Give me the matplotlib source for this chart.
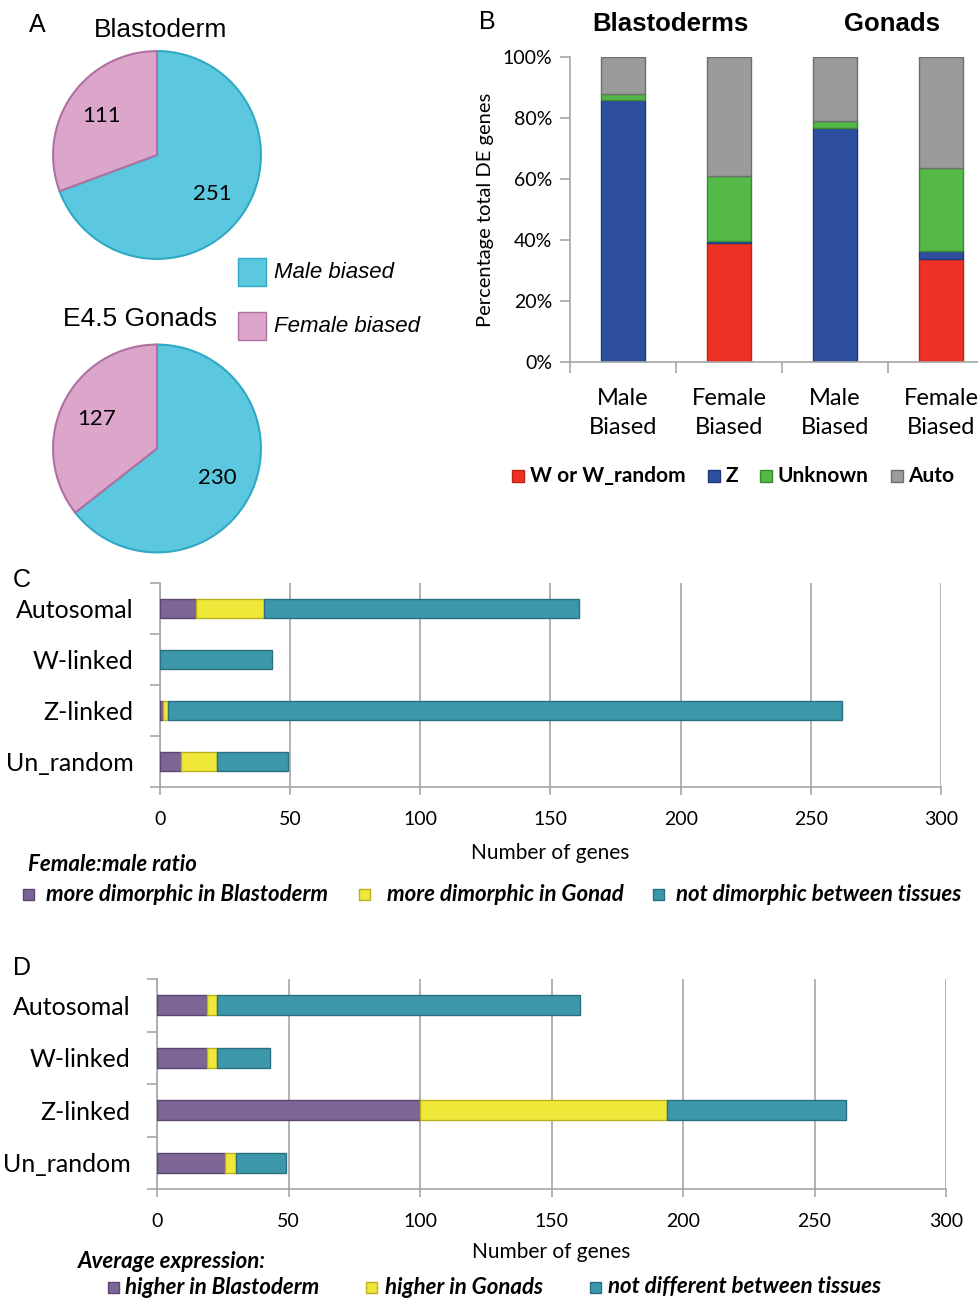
import matplotlib
matplotlib.use('Agg')
import matplotlib.pyplot as plt
import numpy as np
from matplotlib.patches import Rectangle
from matplotlib.ticker import FuncFormatter

# Panel A: number of sex-biased genes
pie_labels = ['Male biased', 'Female biased']
blastoderm_counts = [251, 111]
gonad_counts = [230, 127]

# Panel B: chromosomal location of DE genes (% of total)
b_groups = ['Male\nBiased', 'Female\nBiased', 'Male\nBiased', 'Female\nBiased']
b_w_random = [0.0, 38.9, 0.0, 33.8]
b_z = [86.0, 0.9, 76.7, 2.5]
b_unknown = [1.8, 21.1, 2.3, 27.2]
b_auto = [12.2, 39.1, 21.0, 36.5]
b_series = ['W or W_random', 'Z', 'Unknown', 'Auto']

# Panels C and D: genes per chromosome class
chrom = ['Autosomal', 'W-linked', 'Z-linked', 'Un_random']
c_blasto = [14, 0, 1, 8]
c_gonad = [26, 0, 2, 14]
c_none = [121, 43, 259, 27]
c_series = ['more dimorphic in Blastoderm', 'more dimorphic in Gonad',
            'not dimorphic between tissues']

d_blasto = [19, 19, 100, 26]
d_gonad = [4, 4, 94, 4]
d_none = [138, 20, 68, 19]
d_series = ['higher in Blastoderm', 'higher in Gonads',
            'not different between tissues']

W, H = 979, 1299
ARIAL = 'Liberation Sans'
CAL = 'Lato'

male_col, male_edge = '#5BC8DF', '#2FA9C4'
fem_col, fem_edge = '#DCA6CA', '#B070A2'
b_cols = ['#EE3124', '#2E4FA0', '#55B947', '#9B9B9B']
b_edges = ['#B8231A', '#1F3878', '#3A8A31', '#6E6E6E']
hc_cols = ['#7E6597', '#F0E839', '#3D97AB']
hc_edges = ['#5A4670', '#B8B020', '#2A6F80']
axis_grey = '#A6A6A6'

fig = plt.figure(figsize=(W / 100, H / 100), dpi=100)


def px_axes(x0, y0, x1, y1, **kw):
    return fig.add_axes([x0 / W, 1 - y1 / H, (x1 - x0) / W, (y1 - y0) / H], **kw)


# overlay in pixel units for panel letters and legends
ov = fig.add_axes([0, 0, 1, 1])
ov.set_xlim(0, W)
ov.set_ylim(H, 0)
ov.axis('off')
ov.set_zorder(5)


def key(x, y, size, color, edge, label, tx, **font):
    ov.add_patch(Rectangle((x, y - size / 2), size, size, facecolor=color,
                           edgecolor=edge, lw=1))
    ov.text(tx, y, label, va='center', ha='left', **font)


# ---- A: pies ----
def draw_pie(box, counts):
    ax = px_axes(*box)
    total = sum(counts)
    ax.pie(counts, colors=[male_col, fem_col], startangle=90, counterclock=False,
           autopct=lambda p: f'{round(p * total / 100)}', pctdistance=0.65,
           wedgeprops=dict(linewidth=1.5), textprops=dict(fontsize=16, family=CAL))
    for w, e in zip(ax.patches, [male_edge, fem_edge]):
        w.set_edgecolor(e)
    ax.set_xlim(-1.02, 1.02)
    ax.set_ylim(-1.02, 1.02)
    ax.set_aspect('equal')


draw_pie((51, 49, 263, 261), blastoderm_counts)
draw_pie((51, 342, 263, 555), gonad_counts)

ov.text(37, 25, 'A', ha='center', va='center', fontsize=18, family=ARIAL)
ov.text(161, 30, 'Blastoderm', ha='center', va='center', fontsize=19, family=ARIAL)
ov.text(140, 319, 'E4.5 Gonads', ha='center', va='center', fontsize=19, family=ARIAL)
key(238, 272, 28, male_col, male_edge, pie_labels[0], 274,
    fontsize=16, family=ARIAL, style='italic')
key(238, 326, 28, fem_col, fem_edge, pie_labels[1], 274,
    fontsize=16, family=ARIAL, style='italic')

# ---- B: stacked percentage columns ----
axb = px_axes(570, 57, 994, 362)
x = np.arange(len(b_groups))
bottom = np.zeros(len(b_groups))
for vals, col, edge in zip([b_w_random, b_z, b_unknown, b_auto], b_cols, b_edges):
    axb.bar(x, vals, 0.41, bottom=bottom, color=col, edgecolor=edge, linewidth=1)
    bottom += np.array(vals)
axb.set_xlim(-0.5, 3.5)
axb.set_ylim(0, 100)
axb.set_yticks(np.arange(0, 101, 20))
axb.yaxis.set_major_formatter(FuncFormatter(lambda v, p: f'{v:.0f}%'))
axb.set_xticks(x)
axb.set_xticklabels(b_groups, fontsize=17, family=CAL, linespacing=1.45)
axb.set_xticks(np.arange(-0.5, 4, 1), minor=True)
axb.tick_params(axis='x', which='major', length=0, pad=19)
axb.tick_params(axis='x', which='minor', length=8, color=axis_grey, width=1.2)
axb.tick_params(axis='y', length=7, color=axis_grey, width=1.2, labelsize=14, pad=6)
for lab in axb.get_yticklabels():
    lab.set_family(CAL)
for s in ['top', 'right']:
    axb.spines[s].set_visible(False)
for s in ['left', 'bottom']:
    axb.spines[s].set_color(axis_grey)
    axb.spines[s].set_linewidth(1.2)
axb.set_ylabel('Percentage total DE genes', fontsize=14.5, family=CAL)
axb.yaxis.set_label_coords(-0.18, 0.5)

ov.text(487, 22, 'B', ha='center', va='center', fontsize=18, family=ARIAL)
ov.text(670, 24, 'Blastoderms', ha='center', va='center', fontsize=18.5,
        family=ARIAL, weight='bold')
ov.text(892, 24, 'Gonads', ha='center', va='center', fontsize=18.5,
        family=ARIAL, weight='bold')
for sx, tx, lab, col, edge in zip([512, 708, 760, 891], [530, 726, 778, 908],
                                  b_series, b_cols, b_edges):
    key(sx, 476, 12, col, edge, lab, tx, fontsize=15, family=CAL, weight='bold')


# ---- C and D: stacked horizontal bars ----
def hbars(box, parts, xlabel_y):
    ax = px_axes(*box)
    y = np.arange(len(chrom))
    left = np.zeros(len(chrom))
    for vals, col, edge in zip(parts, hc_cols, hc_edges):
        ax.barh(y, vals, 0.39, left=left, color=col, edgecolor=edge,
                linewidth=1, zorder=3)
        left += np.array(vals)
    ax.set_xlim(0, 300)
    ax.set_ylim(3.5, -0.5)
    ax.set_xticks(np.arange(0, 301, 50))
    ax.xaxis.grid(True, color=axis_grey, linewidth=1.2, zorder=0)
    ax.set_yticks(y)
    ax.set_yticklabels(chrom, fontsize=18, family=CAL)
    ax.set_yticks(np.arange(-0.5, 4, 1), minor=True)
    ax.tick_params(axis='y', which='major', length=0, pad=19)
    ax.tick_params(axis='y', which='minor', length=7, color=axis_grey, width=1.2)
    ax.tick_params(axis='x', length=6, color=axis_grey, width=1.2, labelsize=14, pad=11)
    for lab in ax.get_xticklabels():
        lab.set_family(CAL)
    for s in ['top', 'right']:
        ax.spines[s].set_visible(False)
    for s in ['left', 'bottom']:
        ax.spines[s].set_color(axis_grey)
        ax.spines[s].set_linewidth(1.2)
    ax.set_xlabel('Number of genes', fontsize=15, family=CAL)
    ax.xaxis.set_label_coords(0.5, xlabel_y)
    ax.set_axisbelow(True)
    return ax


hbars((160, 583, 941, 787), [c_blasto, c_gonad, c_none], -0.275)
ov.text(22, 580, 'C', ha='center', va='center', fontsize=18, family=ARIAL)
ov.text(28, 864, 'Female:male ratio', ha='left', va='center', fontsize=16,
        family=CAL, weight='bold', style='italic')
for sx, tx, lab, col, edge in zip([23, 359, 653], [46, 387, 676], c_series,
                                  hc_cols, hc_edges):
    key(sx, 894, 11, col, edge, lab, tx, fontsize=16, family=CAL,
        weight='bold', style='italic')

hbars((157, 979, 946, 1189), [d_blasto, d_gonad, d_none], -0.25)
ov.text(22, 968, 'D', ha='center', va='center', fontsize=18, family=ARIAL)
ov.text(78, 1261, 'Average expression:', ha='left', va='center', fontsize=16,
        family=CAL, weight='bold', style='italic')
for sx, tx, lab, col, edge in zip([108, 366, 590], [125, 385, 608], d_series,
                                  hc_cols, hc_edges):
    key(sx, 1287, 11, col, edge, lab, tx, fontsize=16, family=CAL,
        weight='bold', style='italic')

fig.savefig('out.png', dpi=100)
